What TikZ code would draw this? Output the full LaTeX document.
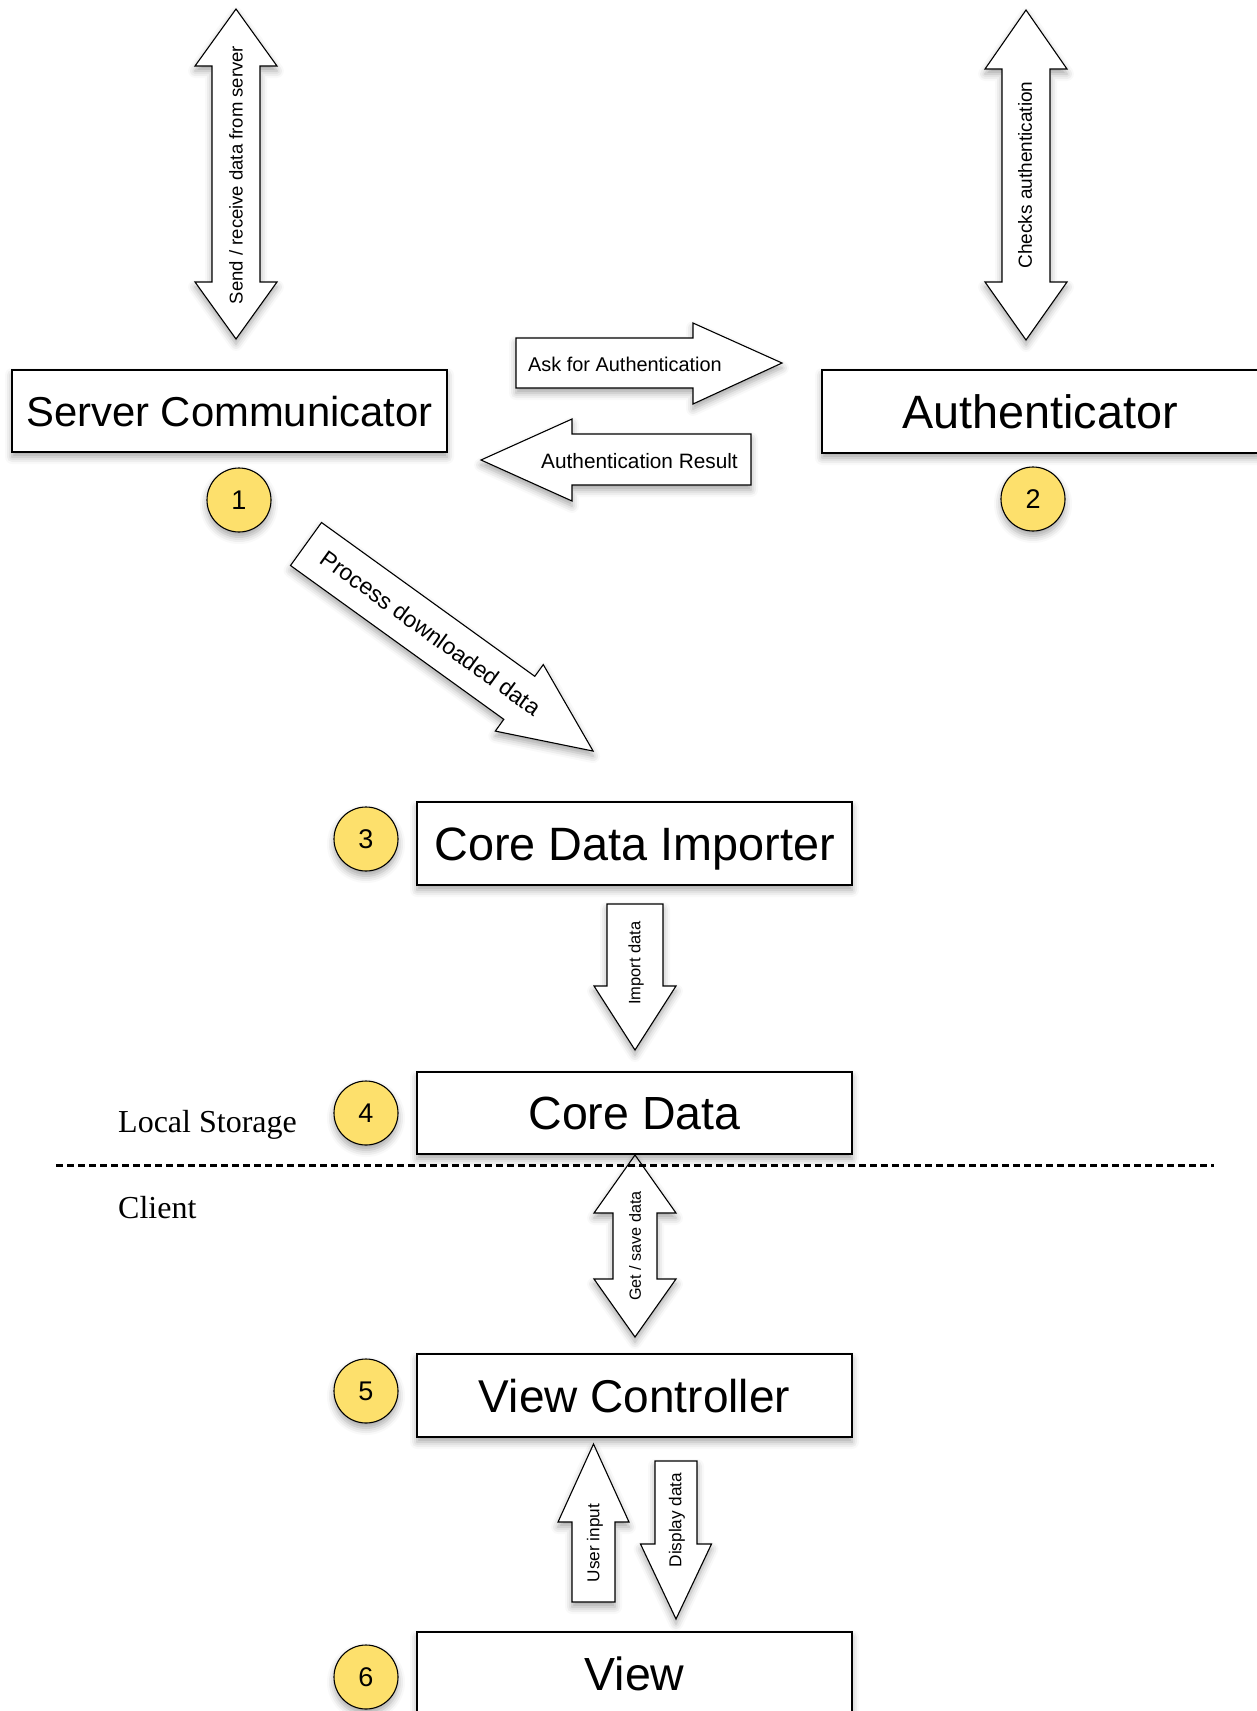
\documentclass[tikz,border=0pt]{standalone}
\usepackage{fontspec}
\setmainfont{Liberation Sans}
\newfontfamily\serifface{Liberation Serif}
\usetikzlibrary{shadows.blur}
\definecolor{badgeyellow}{RGB}{253,224,108}
\tikzset{
  sh/.style={blur shadow={shadow xshift=0pt, shadow yshift=-5pt, shadow blur radius=7pt, shadow opacity=35}},
  box/.style={draw, line width=1.4pt, fill=white, sh, minimum width=435pt, minimum height=82pt,
    inner sep=0pt, text height=33pt, text depth=0pt, font=\fontsize{46.5}{50}\selectfont},
  badge/.style={circle, draw, line width=1.1pt, fill=badgeyellow, sh, minimum size=64pt, inner sep=0pt,
    text height=19pt, text depth=0pt, font=\fontsize{27}{30}\selectfont},
  barrow/.style={draw, line width=1.1pt, fill=white, line join=miter, sh},
  alabel/.style={inner sep=0pt, font=\fontsize{18.5}{20}\selectfont},
  zone/.style={inner sep=0pt, font=\serifface\fontsize{32}{36}\selectfont},
  divider/.style={line width=3pt, dash pattern=on 7pt off 4pt},
}
\begin{document}
\begin{tikzpicture}[x=1pt, y=-1pt]
\useasboundingbox (0,0) rectangle (1257,1711);

% ---- block arrows ----
% send / receive (top left)
\draw[barrow] (236,9) -- (277,66) -- (260,66) -- (260,282) -- (277,282) -- (236,339)
  -- (195,282) -- (212,282) -- (212,66) -- (195,66) -- cycle;
\node[alabel, rotate=90] (lsend) at (236,175) {Send / receive data from server};

% checks authentication (top right)
\draw[barrow] (1026,10) -- (1067,69) -- (1050,69) -- (1050,282) -- (1067,282) -- (1026,340)
  -- (985,282) -- (1002,282) -- (1002,69) -- (985,69) -- cycle;
\node[alabel, rotate=90, font=\fontsize{19}{21}\selectfont] (lcheck) at (1025,175) {Checks authentication};

% ask for authentication
\draw[barrow] (516,338) -- (693,338) -- (693,323) -- (782,363) -- (693,404) -- (693,388)
  -- (516,388) -- cycle;
\node[alabel, anchor=west, font=\fontsize{19.9}{22}\selectfont] (lask) at (528,364) {Ask for Authentication};

% authentication result
\draw[barrow] (751,434) -- (572,434) -- (572,419) -- (481,460) -- (572,501) -- (572,485)
  -- (751,485) -- cycle;
\node[alabel, anchor=east, font=\fontsize{20.8}{23}\selectfont] (lres) at (738,461) {Authentication Result};

% process downloaded data
\begin{scope}[shift={(306,544)}, rotate=-35.8]
\draw[barrow] (0,-26.5) -- (263,-26.5) -- (263,-41) -- (354,0) -- (263,41) -- (263,26.5)
  -- (0,26.5) -- cycle;
\end{scope}
\node[alabel, rotate=-35.8, font=\fontsize{23}{25}\selectfont] (lproc) at (431,633) {Process downloaded data};

% import data
\draw[barrow] (607,904) -- (663,904) -- (663,986) -- (676,986) -- (635,1050) -- (594,986)
  -- (607,986) -- cycle;
\node[alabel, rotate=90, font=\fontsize{16.5}{18}\selectfont] (limp) at (636,963) {Import data};

% get / save data
\draw[barrow] (635,1155) -- (676,1213) -- (657,1213) -- (657,1279) -- (676,1279) -- (635,1337)
  -- (594,1279) -- (613,1279) -- (613,1213) -- (594,1213) -- cycle;
\node[alabel, rotate=90, font=\fontsize{16.2}{18}\selectfont] (lget) at (635,1246) {Get / save data};

% user input
\draw[barrow] (593.5,1444) -- (629,1522) -- (615,1522) -- (615,1602) -- (572,1602)
  -- (572,1522) -- (558,1522) -- cycle;
\node[alabel, rotate=90, font=\fontsize{17.2}{19}\selectfont] (luser) at (595,1543) {User input};

% display data
\draw[barrow] (655,1461) -- (697,1461) -- (697,1544) -- (711.5,1544) -- (676,1619)
  -- (640.5,1544) -- (655,1544) -- cycle;
\node[alabel, rotate=90, font=\fontsize{17.2}{19}\selectfont] (ldisp) at (677,1520) {Display data};

% ---- boxes ----
\node[box, text height=30pt, font=\fontsize{41.8}{45}\selectfont] (sc) at (229.5,411) {Server Communicator};
\node[box, minimum width=436pt, minimum height=83pt, font=\fontsize{46.8}{50}\selectfont] (auth) at (1040,411.5) {Authenticator};
\node[box, minimum height=83pt, font=\fontsize{46.8}{50}\selectfont] (cdi) at (634.5,843.5) {Core Data Importer};
\node[box] (cd) at (634.5,1113) {Core Data};
\node[box, minimum height=83pt, font=\fontsize{46}{50}\selectfont] (vc) at (634.5,1395.5) {View Controller};
\node[box, minimum height=83pt] (view) at (634.5,1673.5) {View};

% ---- badges ----
\node[badge] (b1) at (239,500) {1};
\node[badge] (b2) at (1033,499) {2};
\node[badge] (b3) at (366,839) {3};
\node[badge] (b4) at (366,1113) {4};
\node[badge] (b5) at (366,1391) {5};
\node[badge] (b6) at (366,1677) {6};

% ---- zones ----
\node[zone, anchor=base west] (zls) at (118,1132) {Local Storage};
\node[zone, anchor=base west] (zcl) at (118,1218) {Client};
\coordinate (dl) at (56,1165);
\coordinate (dr) at (1214,1165);
\draw[divider] (dl) -- (dr);
\end{tikzpicture}
\end{document}
